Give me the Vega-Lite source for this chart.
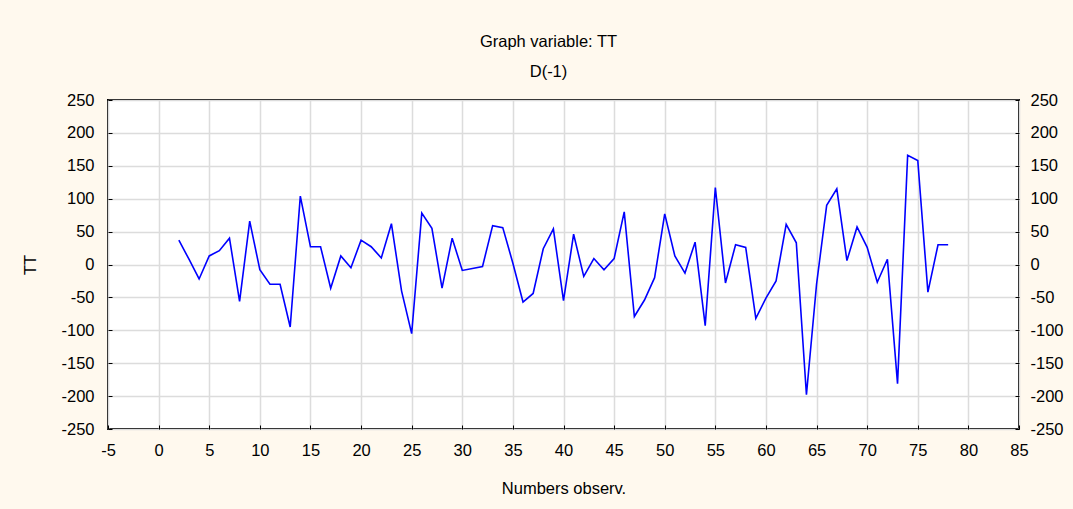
{
  "$schema": "https://vega.github.io/schema/vega-lite/v6.json",
  "autosize": "none",
  "width": 911,
  "height": 329,
  "padding": {"left": 108, "top": 100, "right": 54, "bottom": 80},
  "background": "#FFF9EE",
  "config": {
    "font": "Liberation Sans",
    "view": {"stroke": "#000000", "strokeWidth": 2, "fill": "#FFFFFF"},
    "axis": {
      "labelFont": "Liberation Sans",
      "labelFontSize": 16.5,
      "labelColor": "#000000",
      "labelExpr": "'' + datum.value",
      "titleFont": "Liberation Sans",
      "titleFontSize": 16.5,
      "titleFontWeight": "normal",
      "titleColor": "#000000",
      "domain": false,
      "tickColor": "#000000",
      "tickSize": -4,
      "gridColor": "#DCDCDC",
      "gridWidth": 1.5,
      "gridOpacity": 1
    }
  },
  "title": {
    "text": ["Graph variable: TT", "D(-1)"],
    "fontSize": 16.5,
    "fontWeight": "normal",
    "font": "Liberation Sans",
    "color": "#000000",
    "lineHeight": 30,
    "anchor": "middle",
    "dx": -15,
    "offset": 12
  },
  "data": {
    "values": [
      {"obs": 2, "TT": 37}, {"obs": 3, "TT": 8}, {"obs": 4, "TT": -22}, {"obs": 5, "TT": 13},
      {"obs": 6, "TT": 21}, {"obs": 7, "TT": 40}, {"obs": 8, "TT": -56}, {"obs": 9, "TT": 66},
      {"obs": 10, "TT": -8}, {"obs": 11, "TT": -30}, {"obs": 12, "TT": -30}, {"obs": 13, "TT": -95},
      {"obs": 14, "TT": 104}, {"obs": 15, "TT": 27}, {"obs": 16, "TT": 27}, {"obs": 17, "TT": -36},
      {"obs": 18, "TT": 13}, {"obs": 19, "TT": -5}, {"obs": 20, "TT": 37}, {"obs": 21, "TT": 27},
      {"obs": 22, "TT": 10}, {"obs": 23, "TT": 62}, {"obs": 24, "TT": -40}, {"obs": 25, "TT": -105},
      {"obs": 26, "TT": 78}, {"obs": 27, "TT": 55}, {"obs": 28, "TT": -36}, {"obs": 29, "TT": 40},
      {"obs": 30, "TT": -9}, {"obs": 31, "TT": -6}, {"obs": 32, "TT": -3}, {"obs": 33, "TT": 59},
      {"obs": 34, "TT": 56}, {"obs": 35, "TT": 2}, {"obs": 36, "TT": -57}, {"obs": 37, "TT": -44},
      {"obs": 38, "TT": 24}, {"obs": 39, "TT": 54}, {"obs": 40, "TT": -55}, {"obs": 41, "TT": 46},
      {"obs": 42, "TT": -18}, {"obs": 43, "TT": 9}, {"obs": 44, "TT": -8}, {"obs": 45, "TT": 9},
      {"obs": 46, "TT": 80}, {"obs": 47, "TT": -79}, {"obs": 48, "TT": -54}, {"obs": 49, "TT": -20},
      {"obs": 50, "TT": 77}, {"obs": 51, "TT": 13}, {"obs": 52, "TT": -13}, {"obs": 53, "TT": 34},
      {"obs": 54, "TT": -93}, {"obs": 55, "TT": 117}, {"obs": 56, "TT": -28}, {"obs": 57, "TT": 30},
      {"obs": 58, "TT": 26}, {"obs": 59, "TT": -82}, {"obs": 60, "TT": -51}, {"obs": 61, "TT": -25},
      {"obs": 62, "TT": 61}, {"obs": 63, "TT": 33}, {"obs": 64, "TT": -198}, {"obs": 65, "TT": -30},
      {"obs": 66, "TT": 90}, {"obs": 67, "TT": 115}, {"obs": 68, "TT": 6}, {"obs": 69, "TT": 57},
      {"obs": 70, "TT": 26}, {"obs": 71, "TT": -27}, {"obs": 72, "TT": 8}, {"obs": 73, "TT": -181},
      {"obs": 74, "TT": 166}, {"obs": 75, "TT": 158}, {"obs": 76, "TT": -42}, {"obs": 77, "TT": 30},
      {"obs": 78, "TT": 30}
    ]
  },
  "encoding": {
    "x": {
      "field": "obs",
      "type": "quantitative",
      "scale": {"domain": [-5, 85], "nice": false, "zero": false},
      "axis": {
        "title": "Numbers observ.",
        "values": [-5, 0, 5, 10, 15, 20, 25, 30, 35, 40, 45, 50, 55, 60, 65, 70, 75, 80, 85],
        "labelPadding": 17,
        "titlePadding": 22,
        "labelFlush": false
      }
    }
  },
  "layer": [
    {
      "mark": {"type": "line", "color": "#0000FF", "strokeWidth": 1.6, "clip": true},
      "encoding": {
        "y": {
          "field": "TT",
          "type": "quantitative",
          "scale": {"domain": [-250, 250], "nice": false, "zero": false},
          "axis": {
            "title": "TT",
            "values": [-250, -200, -150, -100, -50, 0, 50, 100, 150, 200, 250],
            "labelPadding": 18,
            "titlePadding": 22,
            "labelFlush": false
          }
        }
      }
    },
    {
      "mark": {"type": "line", "strokeOpacity": 0, "clip": true},
      "encoding": {
        "y": {
          "field": "TT",
          "type": "quantitative",
          "scale": {"domain": [-250, 250], "nice": false, "zero": false},
          "axis": {
            "orient": "right",
            "title": null,
            "grid": false,
            "values": [-250, -200, -150, -100, -50, 0, 50, 100, 150, 200, 250],
            "labelPadding": 15,
            "labelFlush": false
          }
        }
      }
    }
  ],
  "resolve": {"scale": {"y": "independent"}}
}
